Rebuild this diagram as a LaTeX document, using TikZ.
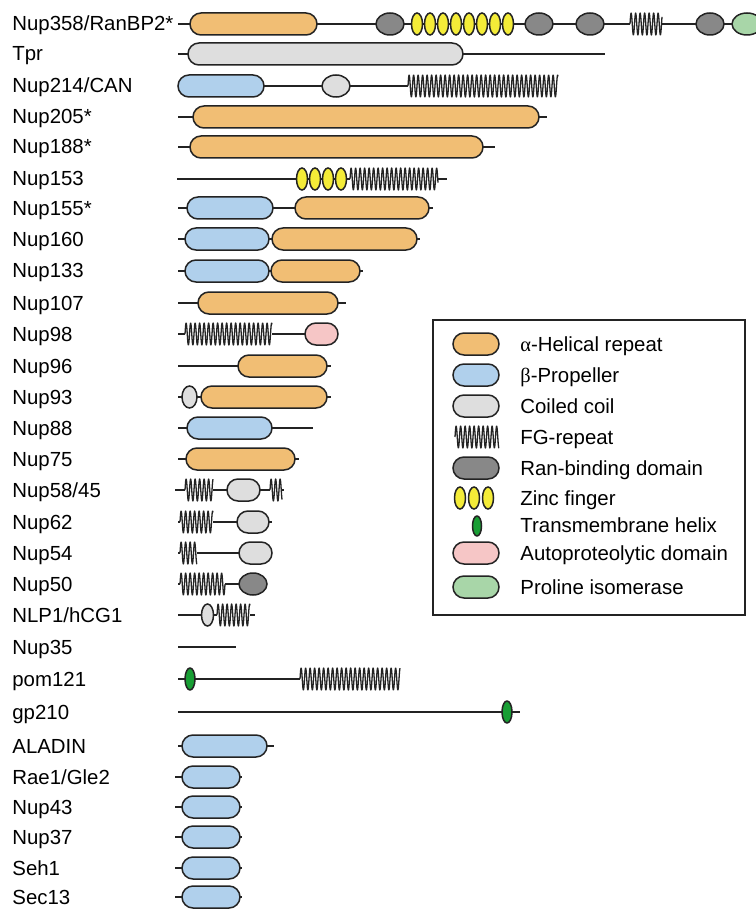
\documentclass[tikz,border=0pt]{standalone}
\usepackage{fontspec}
\setmainfont{Liberation Sans}
\newfontfamily\grk{Liberation Serif}
\usepackage{xcolor}
\usepackage{tikz}
\usetikzlibrary{positioning}

\definecolor{helix}{RGB}{241,190,116}
\definecolor{prop}{RGB}{176,208,236}
\definecolor{coil}{RGB}{222,222,222}
\definecolor{ranbd}{RGB}{136,136,136}
\definecolor{zinc}{RGB}{244,236,56}
\definecolor{tmh}{RGB}{24,158,52}
\definecolor{autop}{RGB}{246,198,198}
\definecolor{prol}{RGB}{168,214,168}
\definecolor{edge}{RGB}{35,35,35}

\tikzset{
  backbone/.style={draw=edge, line width=0.7pt},
  dom/.style={draw=edge, line width=0.75pt, rounded corners=5.5pt},
  fgwave/.style={draw=edge, line width=0.65pt, line join=round},
  lbl/.style={anchor=base west, inner sep=0pt, font=\fontsize{10.2}{12}\selectfont}
}

% x1 x2 y
\newcommand{\bbone}[3]{\draw[backbone] (#1,#3) -- (#2,#3);}
% x1 x2 y colour
\newcommand{\dbar}[4]{\filldraw[dom, fill=#4] (#1,#3-11) rectangle (#2,#3+11);}
% cx cy rx ry colour
\newcommand{\dell}[5]{\filldraw[draw=edge, line width=0.75pt, fill=#5] (#1,#2) ellipse [x radius=#3, y radius=#4];}
% x1 x2 y  (period 4.5)
\newcommand{\fgrep}[3]{%
  \pgfmathtruncatemacro\nsmp{(#2-#1)*4+2}%
  \fill[white] (#1,#3-12) rectangle (#2,#3+12);
  \draw[fgwave] plot[domain=#1:#2, samples=\nsmp] (\x, {#3-11*sin((\x-#1)*80)});}

\begin{document}
\begin{tikzpicture}[x=0.5pt, y=-0.5pt]
\useasboundingbox (0,0) rectangle (755,909);

% names
\node[lbl] (nup358) at (12,31) {Nup358/RanBP2*};
\node[lbl] (tpr) at (12,61) {Tpr};
\node[lbl] (nup214) at (12,93) {Nup214/CAN};
\node[lbl] (nup205) at (12,124) {Nup205*};
\node[lbl] (nup188) at (12,154) {Nup188*};
\node[lbl] (nup153) at (12,186) {Nup153};
\node[lbl] (nup155) at (12,215) {Nup155*};
\node[lbl] (nup160) at (12,246) {Nup160};
\node[lbl] (nup133) at (12,278) {Nup133};
\node[lbl] (nup107) at (12,310) {Nup107};
\node[lbl] (nup98) at (12,341) {Nup98};
\node[lbl] (nup96) at (12,373) {Nup96};
\node[lbl] (nup93) at (12,404) {Nup93};
\node[lbl] (nup88) at (12,435) {Nup88};
\node[lbl] (nup75) at (12,466) {Nup75};
\node[lbl] (nup58) at (12,497) {Nup58/45};
\node[lbl] (nup62) at (12,529) {Nup62};
\node[lbl] (nup54) at (12,560) {Nup54};
\node[lbl] (nup50) at (12,591) {Nup50};
\node[lbl] (nlp1) at (12,622) {NLP1/hCG1};
\node[lbl] (nup35) at (12,654) {Nup35};
\node[lbl] (pom121) at (12,686) {pom121};
\node[lbl] (gp210) at (12,719) {gp210};
\node[lbl] (aladin) at (12,753) {ALADIN};
\node[lbl] (rae1) at (12,784) {Rae1/Gle2};
\node[lbl] (nup43) at (12,814) {Nup43};
\node[lbl] (nup37) at (12,844) {Nup37};
\node[lbl] (seh1) at (12,875) {Seh1};
\node[lbl] (sec13) at (12,904) {Sec13};

% Nup358
\bbone{178}{760}{24}
\fgrep{630}{662}{24}
\dbar{190}{317}{24}{helix}
\dell{390}{24}{14}{11}{ranbd}
\dell{417}{24}{5.5}{11}{zinc} \dell{430}{24}{5.5}{11}{zinc}
\dell{443}{24}{5.5}{11}{zinc} \dell{456}{24}{5.5}{11}{zinc}
\dell{469}{24}{5.5}{11}{zinc} \dell{482}{24}{5.5}{11}{zinc}
\dell{495}{24}{5.5}{11}{zinc} \dell{508}{24}{5.5}{11}{zinc}
\dell{539}{24}{14}{11}{ranbd}
\dell{590}{24}{14}{11}{ranbd}
\dell{710}{24}{14}{11}{ranbd}
\dell{747}{24}{15}{11}{prol}

% Tpr
\bbone{178}{605}{54}
\dbar{188}{463}{54}{coil}

% Nup214
\bbone{178}{558}{86}
\fgrep{408}{558}{86}
\dbar{178}{264}{86}{prop}
\dell{336}{86}{14}{11}{coil}

% Nup205, Nup188
\bbone{178}{547}{117}
\dbar{193}{539}{117}{helix}
\bbone{178}{495}{147}
\dbar{190}{483}{147}{helix}

% Nup153
\bbone{177}{447}{179}
\fgrep{350}{438}{179}
\dell{302}{179}{5.5}{11}{zinc} \dell{315}{179}{5.5}{11}{zinc}
\dell{328}{179}{5.5}{11}{zinc} \dell{341}{179}{5.5}{11}{zinc}

% Nup155, Nup160, Nup133
\bbone{178}{433}{208}
\dbar{187}{273}{208}{prop}
\dbar{295}{429}{208}{helix}
\bbone{178}{420}{239}
\dbar{185}{269}{239}{prop}
\dbar{272}{417}{239}{helix}
\bbone{178}{363}{271}
\dbar{185}{269}{271}{prop}
\dbar{271}{360}{271}{helix}

% Nup107
\bbone{178}{346}{303}
\dbar{198}{338}{303}{helix}

% Nup98
\bbone{178}{305}{334}
\fgrep{185}{272}{334}
\dbar{305}{338}{334}{autop}

% Nup96, Nup93
\bbone{178}{331}{366}
\dbar{238}{327}{366}{helix}
\bbone{178}{331}{397}
\dell{189.5}{397}{7.5}{11}{coil}
\dbar{201}{327}{397}{helix}

% Nup88, Nup75
\bbone{178}{313}{428}
\dbar{187}{272}{428}{prop}
\bbone{178}{299}{459}
\dbar{186}{295}{459}{helix}

% Nup58/45
\bbone{175}{284}{490}
\fgrep{185}{213}{490}
\fgrep{270}{282}{490}
\dbar{227}{260}{490}{coil}

% Nup62, Nup54, Nup50
\bbone{178}{272}{522}
\fgrep{180}{213}{522}
\dbar{237}{269}{522}{coil}
\bbone{178}{239}{553}
\fgrep{180}{197}{553}
\dbar{239}{272}{553}{coil}
\bbone{178}{239}{584}
\fgrep{180}{225}{584}
\dell{253}{584}{14}{11}{ranbd}

% NLP1/hCG1, Nup35
\bbone{178}{255}{615}
\fgrep{217}{250}{615}
\dell{207.5}{615}{6}{11}{coil}
\bbone{178}{236}{647}

% pom121, gp210
\bbone{178}{300}{679}
\fgrep{300}{400}{679}
\dell{190}{679}{5}{11}{tmh}
\bbone{178}{520}{712}
\dell{507}{712}{5}{11}{tmh}

% ALADIN and the small propellers
\bbone{178}{274}{746}
\dbar{182}{267}{746}{prop}
\bbone{175}{242}{777}
\dbar{182}{240}{777}{prop}
\bbone{175}{242}{807}
\dbar{182}{240}{807}{prop}
\bbone{175}{242}{837}
\dbar{182}{240}{837}{prop}
\bbone{175}{242}{868}
\dbar{182}{240}{868}{prop}
\bbone{175}{242}{897}
\dbar{182}{240}{897}{prop}

% key
\draw[draw=edge, line width=0.6pt] (433,320) rectangle (745,615);
\dbar{453}{499}{344}{helix}
\node[lbl] (khelix) at (520,351) {{\grk α}-Helical repeat};
\dbar{453}{499}{375}{prop}
\node[lbl] (kprop) at (520,382) {{\grk β}-Propeller};
\dbar{453}{499}{406}{coil}
\node[lbl] (kcoil) at (520,413) {Coiled coil};
\fgrep{455}{499}{437}
\node[lbl] (kfg) at (520,444) {FG-repeat};
\dbar{453}{499}{468}{ranbd}
\node[lbl] (kran) at (520,475) {Ran-binding domain};
\dell{460}{498}{5.5}{11}{zinc} \dell{474}{498}{5.5}{11}{zinc} \dell{488}{498}{5.5}{11}{zinc}
\node[lbl] (kzinc) at (520,505) {Zinc finger};
\dell{477}{526}{4.5}{10}{tmh}
\node[lbl] (ktm) at (520,532) {Transmembrane helix};
\dbar{453}{499}{553}{autop}
\node[lbl] (kauto) at (520,560) {Autoproteolytic domain};
\dbar{453}{499}{587}{prol}
\node[lbl] (kprol) at (520,594) {Proline isomerase};

\end{tikzpicture}
\end{document}
